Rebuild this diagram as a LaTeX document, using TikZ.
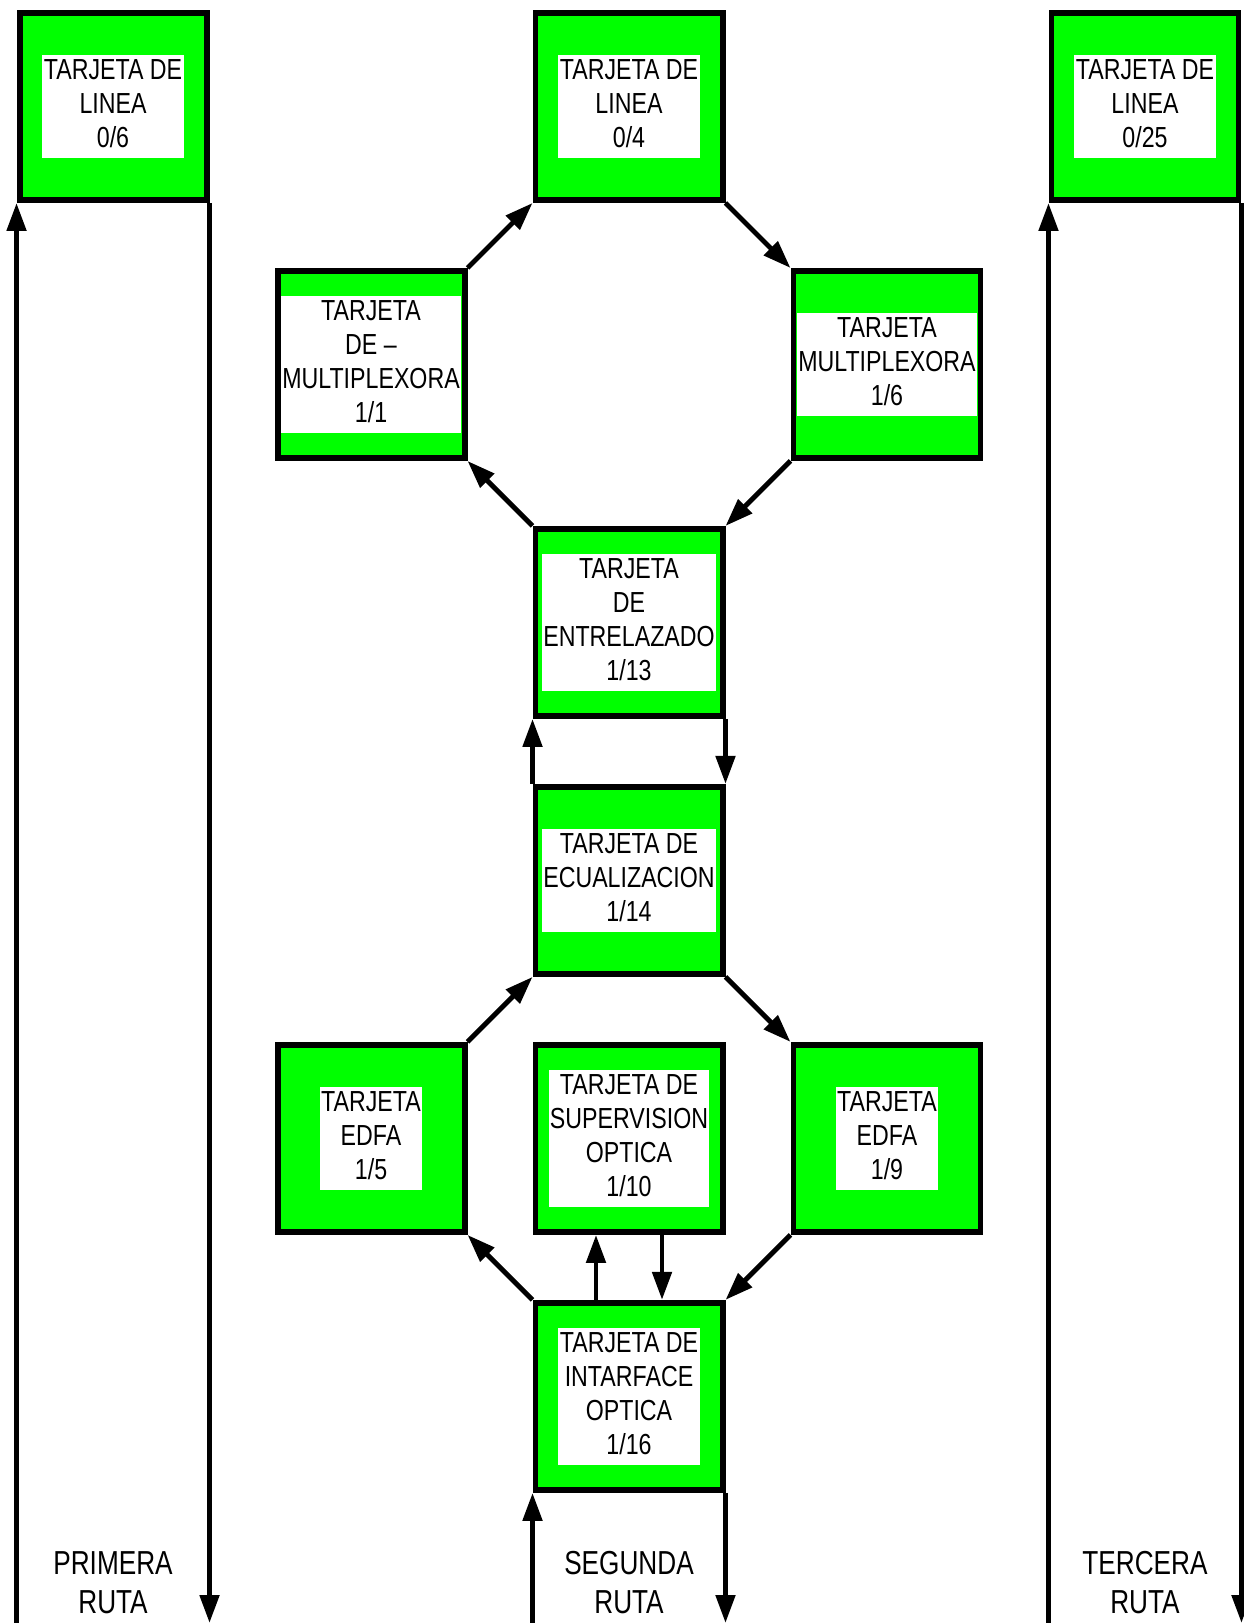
\documentclass[tikz,border=0pt]{standalone}
\usepackage{fontspec}
\setmainfont{Liberation Sans}
\usepackage{graphicx}
\usepackage{tikz}
\usetikzlibrary{arrows.meta,positioning}
\definecolor{cardgreen}{RGB}{0,255,0}
\newcommand{\cardtext}[1]{\scalebox{1}[1.25]{\begin{tabular}{@{}c@{}}#1\end{tabular}}}
\newcommand{\routetext}[1]{\scalebox{1}[1.27]{\begin{tabular}{@{}c@{}}#1\end{tabular}}}

\begin{document}
\begin{tikzpicture}[
  card/.style={rectangle,draw,line width=1.7pt,fill=cardgreen,minimum size=1.87cm,inner sep=0pt},
  txt/.style={rectangle,fill=white,inner xsep=0.4pt,inner ysep=0.2pt,font=\fontsize{6.6}{7.74}\selectfont},
  route/.style={inner sep=0pt,font=\fontsize{7.45}{8.8}\selectfont},
  arr/.style={-{Triangle[length=0.28cm,width=0.19cm]},line width=1.4pt},
  node distance=0.65cm and 0.65cm]
  \useasboundingbox (0,0) rectangle (12.43,-16.23);
  \coordinate (bot) at (0,-16.23);
  \coordinate (routey) at (0,-15.86);
  \node[card](l04) at (6.29,-1.065){};
  \node[card,left=3.23cm of l04](l06){};
  \node[card,right=3.23cm of l04](l025){};
  \node[card,below left=of l04](mux11){};
  \node[card,below right=of l04](mux16){};
  \node[card,below right=of mux11](ent113){};
  \node[card,below=of ent113](ecu114){};
  \node[card,below left=of ecu114](edfa15){};
  \node[card,below=of ecu114](sup110){};
  \node[card,below right=of ecu114](edfa19){};
  \node[card,below=of sup110](int116){};
  \node[txt](l06t) at (l06){\cardtext{TARJETA DE\\LINEA\\0/6}};
  \node[txt](l04t) at (l04){\cardtext{TARJETA DE\\LINEA\\0/4}};
  \node[txt](l025t) at (l025){\cardtext{TARJETA DE\\LINEA\\0/25}};
  \node[txt](mux11t) at (mux11){\cardtext{TARJETA\\DE –\\MULTIPLEXORA\\1/1}};
  \node[txt](mux16t) at (mux16){\cardtext{TARJETA\\MULTIPLEXORA\\1/6}};
  \node[txt](ent113t) at (ent113){\cardtext{TARJETA\\DE\\ENTRELAZADO\\1/13}};
  \node[txt](ecu114t) at (ecu114){\cardtext{TARJETA DE\\ECUALIZACION\\1/14}};
  \node[txt](edfa15t) at (edfa15){\cardtext{TARJETA\\EDFA\\1/5}};
  \node[txt](sup110t) at (sup110){\cardtext{TARJETA DE\\SUPERVISION\\OPTICA\\1/10}};
  \node[txt](edfa19t) at (edfa19){\cardtext{TARJETA\\EDFA\\1/9}};
  \node[txt](int116t) at (int116){\cardtext{TARJETA DE\\INTARFACE\\OPTICA\\1/16}};
  \node[route](r1) at (l06 |- routey){\routetext{PRIMERA\\RUTA}};
  \node[route](r2) at (int116 |- routey){\routetext{SEGUNDA\\RUTA}};
  \node[route](r3) at (l025 |- routey){\routetext{TERCERA\\RUTA}};
  \draw[arr](bot -| l06.south west)--(l06.south west);
  \draw[arr](l06.south east)--(l06.south east |- bot);
  \draw[arr](bot -| l025.south west)--(l025.south west);
  \draw[arr](l025.south east)--(l025.south east |- bot);
  \draw[arr](bot -| int116.south west)--(int116.south west);
  \draw[arr](int116.south east)--(int116.south east |- bot);
  \draw[arr](mux11.north east)--(l04.south west);
  \draw[arr](l04.south east)--(mux16.north west);
  \draw[arr](mux16.south west)--(ent113.north east);
  \draw[arr](ent113.north west)--(mux11.south east);
  \draw[arr](ecu114.north west)--(ent113.south west);
  \draw[arr](ent113.south east)--(ecu114.north east);
  \draw[arr](edfa15.north east)--(ecu114.south west);
  \draw[arr](ecu114.south east)--(edfa19.north west);
  \draw[arr](edfa19.south west)--(int116.north east);
  \draw[arr](int116.north west)--(edfa15.south east);
  \draw[arr]([xshift=-0.33cm]int116.north)--([xshift=-0.33cm]sup110.south);
  \draw[arr]([xshift=0.33cm]sup110.south)--([xshift=0.33cm]int116.north);
\end{tikzpicture}
\end{document}
